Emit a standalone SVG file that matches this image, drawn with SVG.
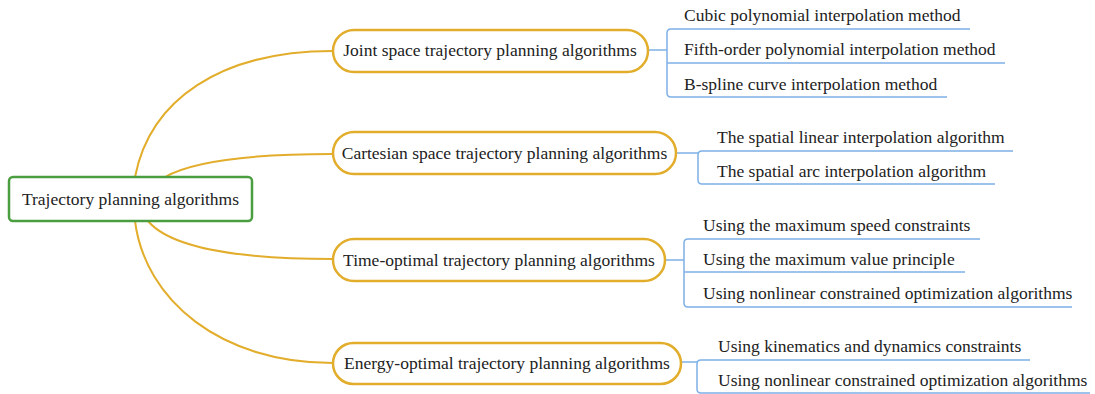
<svg xmlns="http://www.w3.org/2000/svg" width="1095" height="394" viewBox="0 0 1095 394">
  <style>
    text { font-family: 'Liberation Serif', 'DejaVu Serif', serif; font-size: 17.5px; fill: #222; }
    .root { fill: #fff; stroke: #4b9e40; stroke-width: 2.5; }
    .branch { fill: #fff; stroke: #e3ad2c; stroke-width: 2.5; }
    .curve { fill: none; stroke: #e3ad2c; stroke-width: 2; }
    .leaf { fill: none; stroke: #7eb0e8; stroke-width: 1.5; }
  </style>

  <!-- connectors from root to branches, and leaf brackets -->
  <g id="connectors">
    <path class="curve" d="M135,177 C150,100 220,51 333,51"/>
    <path class="curve" d="M165,177 Q205,154 333,154"/>
    <path class="curve" d="M148,221 Q180,259 333,259"/>
    <path class="curve" d="M135,221 C145,300 220,363 333,363"/>

    <!-- joint space leaves -->
    <path class="leaf" d="M648,50 H667"/>
    <path class="leaf" d="M970,29 H671 Q667,29 667,33 V93 Q667,97 671,97 H947"/>
    <path class="leaf" d="M667,63 H1005"/>

    <!-- cartesian space leaves -->
    <path class="leaf" d="M676,153 H698"/>
    <path class="leaf" d="M1013,151 H702 Q698,151 698,155 V180 Q698,184 702,184 H995"/>

    <!-- time-optimal leaves -->
    <path class="leaf" d="M665,260 H684"/>
    <path class="leaf" d="M980,239 H688 Q684,239 684,243 V303 Q684,307 688,307 H1072"/>
    <path class="leaf" d="M684,272 H965"/>

    <!-- energy-optimal leaves -->
    <path class="leaf" d="M681,362 H697"/>
    <path class="leaf" d="M1030,360 H701 Q697,360 697,364 V389 Q697,393 701,393 H1090"/>
  </g>

  <g id="root">
    <rect class="root" x="9" y="177" width="243" height="44" rx="4"/>
    <text x="130.5" y="205" text-anchor="middle">Trajectory planning algorithms</text>
  </g>

  <g id="joint">
    <rect class="branch" x="333" y="30" width="315" height="42" rx="21"/>
    <text x="490" y="56" text-anchor="middle">Joint space trajectory planning algorithms</text>
  </g>
  <g id="joint-cubic"><text x="684" y="21">Cubic polynomial interpolation method</text></g>
  <g id="joint-fifth"><text x="684" y="55">Fifth-order polynomial interpolation method</text></g>
  <g id="joint-bspline"><text x="684" y="90">B-spline curve interpolation method</text></g>

  <g id="cartesian">
    <rect class="branch" x="333" y="132" width="343" height="42" rx="21"/>
    <text x="504.5" y="159" text-anchor="middle">Cartesian space trajectory planning algorithms</text>
  </g>
  <g id="cart-linear"><text x="717" y="143">The spatial linear interpolation algorithm</text></g>
  <g id="cart-arc"><text x="717" y="177">The spatial arc interpolation algorithm</text></g>

  <g id="time">
    <rect class="branch" x="333" y="239" width="332" height="42" rx="21"/>
    <text x="499" y="266" text-anchor="middle">Time-optimal trajectory planning algorithms</text>
  </g>
  <g id="time-speed"><text x="703" y="231">Using the maximum speed constraints</text></g>
  <g id="time-value"><text x="703" y="265">Using the maximum value principle</text></g>
  <g id="time-nonlinear"><text x="703" y="299">Using nonlinear constrained optimization algorithms</text></g>

  <g id="energy">
    <rect class="branch" x="333" y="343" width="348" height="41" rx="20.5"/>
    <text x="507" y="369" text-anchor="middle">Energy-optimal trajectory planning algorithms</text>
  </g>
  <g id="energy-kinematics"><text x="718" y="352">Using kinematics and dynamics constraints</text></g>
  <g id="energy-nonlinear"><text x="718" y="386">Using nonlinear constrained optimization algorithms</text></g>
</svg>
